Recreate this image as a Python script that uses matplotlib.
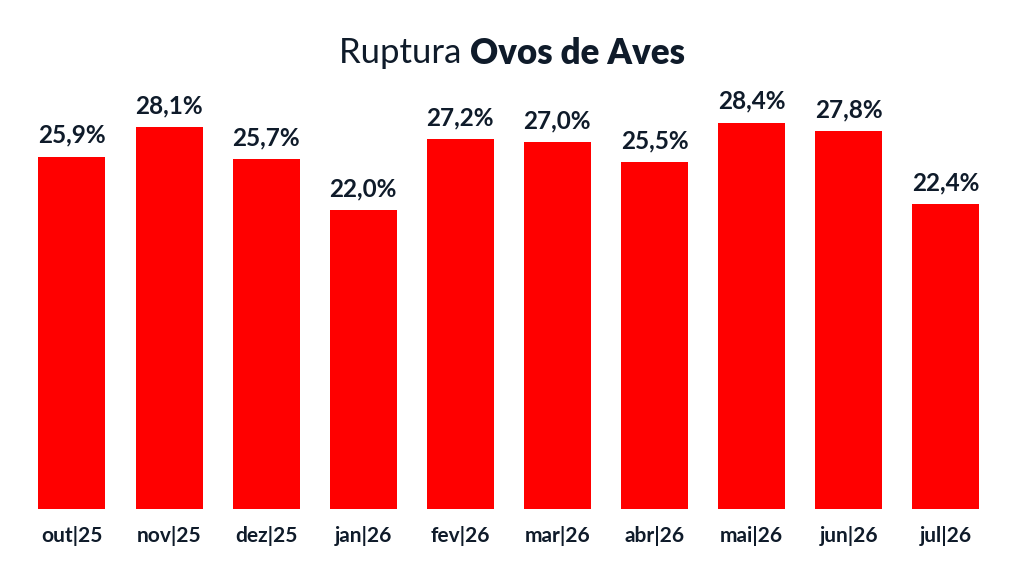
import matplotlib.pyplot as plt

# dados
meses = ["out|25", "nov|25", "dez|25", "jan|26", "fev|26",
         "mar|26", "abr|26", "mai|26", "jun|26", "jul|26"]
ruptura = [25.9, 28.1, 25.7, 22.0, 27.2, 27.0, 25.5, 28.4, 27.8, 22.4]

vermelho = "#ff0000"
azul_escuro = "#0f1b2a"

plt.rcParams['font.family'] = ['Lato', 'DejaVu Sans']

fig = plt.figure(figsize=(10.24, 5.76), dpi=100)
ax = fig.add_axes([0.0229, 0.1163, 0.948, 0.7795])

x = list(range(len(meses)))
bars = ax.bar(x, ruptura, width=0.69, color=vermelho)

for xi, v in zip(x, ruptura):
    ax.annotate(f"{v:.1f}%".replace(".", ","), (xi, v), xytext=(0, 7),
                textcoords="offset points", ha="center", va="bottom",
                fontsize=17.5, fontweight="bold", color=azul_escuro)

ax.set_xlim(-0.5, len(meses) - 0.5)
ax.set_ylim(0, 33)
ax.set_xticks(x)
ax.set_xticklabels(meses, fontsize=15, fontweight="bold", color=azul_escuro)
ax.tick_params(axis="x", length=0, pad=12)
ax.set_yticks([])
for s in ax.spines.values():
    s.set_visible(False)

# titulo: parte leve + parte negrito
fig.canvas.draw()
r = fig.canvas.get_renderer()
t1 = fig.text(0, 0, "Ruptura ", fontsize=25, fontweight="normal", color=azul_escuro)
t2 = fig.text(0, 0, "Ovos de Aves", fontsize=25, fontweight="heavy", color=azul_escuro)
w1 = t1.get_window_extent(r).width / fig.bbox.width
w2 = t2.get_window_extent(r).width / fig.bbox.width
x0 = 0.5 - (w1 + w2) / 2
y_t = 1 - 53 / 576
t1.set_position((x0, y_t)); t1.set_va("center")
t2.set_position((x0 + w1, y_t)); t2.set_va("center")

fig.savefig("out.png", dpi=100, facecolor="white")
